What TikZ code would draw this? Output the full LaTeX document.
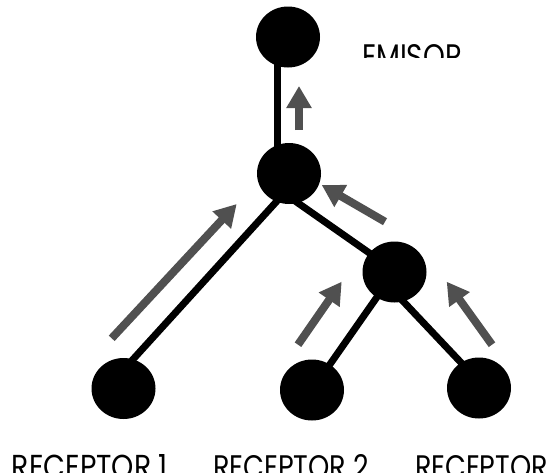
\documentclass[tikz,border=0pt]{standalone}
\usepackage{fontspec}
\setmainfont{Poppins}
\usetikzlibrary{arrows.meta,shapes.geometric,backgrounds}
\definecolor{arrowgray}{HTML}{505050}
\begin{document}
\begin{tikzpicture}[x=1pt,y=-1pt,
  dot/.style={ellipse,fill=black,draw=none,minimum width=64pt,minimum height=61pt,inner sep=0pt},
  link/.style={line width=7pt,black},
  flow/.style={line width=8pt,color=arrowgray,-{Triangle[width=24pt,length=22pt]}},
  lab/.style={anchor=north west,inner sep=0pt,outer sep=0pt}]
\useasboundingbox (0,0) rectangle (547,472);
\clip (0,0) rectangle (547,472);
% nodes
\node[dot] (E) at (288,37) {};
\node[dot] (M) at (289,173.5) {};
\node[dot] (J) at (394.5,272) {};
\node[dot] (R1) at (123.5,388.5) {};
\node[dot] (R2) at (312,390) {};
\node[dot] (R3) at (479,388) {};
% connectors
\begin{scope}[on background layer]
\draw[link] ([xshift=-10.5pt]E.center) -- ([xshift=-11.5pt]M.center);
\draw[link] ([xshift=13pt]M.center) -- ([xshift=-17pt]R1.center);
\draw[link] ([shift={(-9.6,16.5)}]M.center) -- ([xshift=2pt]J.center);
\draw[link] (J.center) -- (R2.center);
\draw[link] ([xshift=-19pt]J.center) -- ([xshift=6pt]R3.center);
\end{scope}
% flow arrows
\coordinate (a1s) at (299,130);   \coordinate (a1e) at (299,86);
\coordinate (a2s) at (385,221.7); \coordinate (a2e) at (321.7,185);
\coordinate (a3s) at (111.7,338.3); \coordinate (a3e) at (236.7,204);
\coordinate (a4s) at (298,344.7); \coordinate (a4e) at (341.7,281.7);
\coordinate (a5s) at (492,344.7); \coordinate (a5e) at (446.7,281.7);
\draw[flow] (a1s) -- (a1e);
\draw[flow] (a2s) -- (a2e);
\draw[flow] (a3s) -- (a3e);
\draw[flow] (a4s) -- (a4e);
\draw[flow] (a5s) -- (a5e);
% labels
\begin{scope}
\clip (340,30) rectangle (500,57);
\node[lab] (lE) at (362,44) {\resizebox{100pt}{24pt}{EMISOR}};
\end{scope}
\node[lab] (l1) at (12,454) {\resizebox{156pt}{24pt}{RECEPTOR 1}};
\node[lab] (l2) at (213,454) {\resizebox{156pt}{24pt}{RECEPTOR 2}};
\node[lab] (l3) at (415,454) {\resizebox{156pt}{24pt}{RECEPTOR 3}};
\end{tikzpicture}
\end{document}
